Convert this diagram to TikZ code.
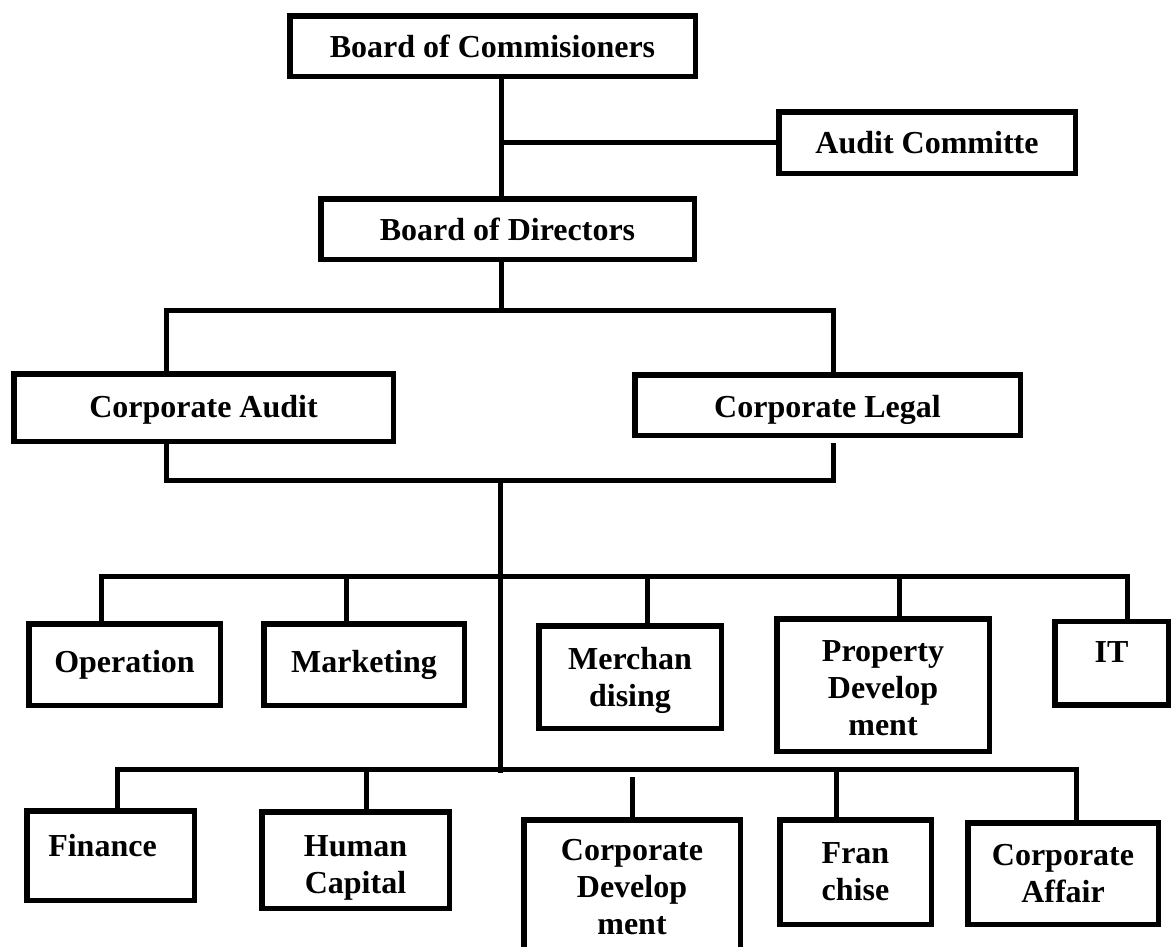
\documentclass[tikz,border=0pt]{standalone}
\usepackage{fontspec}
\setmainfont{Liberation Serif}
\newcommand{\mvtxt}[2]{\raisebox{#1}[\height][\depth]{\begin{tabular}{@{}c@{}}#2\end{tabular}}}
\begin{document}
\begin{tikzpicture}[x=1pt,y=-1pt,
  box/.style={draw, line width=5.5pt, inner sep=0pt, align=center,
    font=\bfseries\fontsize{32}{37}\selectfont},
  conn/.style={line width=5pt, line join=miter}]
\useasboundingbox (0,0) rectangle (1173,946);
% boxes
\node[box, minimum width=405.5pt, minimum height=60.5pt] (boc) at (492.5,46) {Board of Commisioners};
\node[box, minimum width=296.5pt, minimum height=61.5pt] (ac) at (927,142.5) {Audit Committe};
\node[box, minimum width=373.5pt, minimum height=60.5pt] (bod) at (507.5,229) {Board of Directors};
\node[box, minimum width=379.5pt, minimum height=67.5pt] (ca) at (203.5,407.5) {\mvtxt{-3pt}{Corporate Audit}};
\node[box, minimum width=385.5pt, minimum height=60.5pt] (cl) at (827.5,405) {\mvtxt{-5pt}{Corporate Legal}};
\node[box, minimum width=191.5pt, minimum height=81.5pt] (op) at (124.5,664.5) {Operation};
\node[box, minimum width=200.5pt, minimum height=81.5pt] (mk) at (364,664.5) {Marketing};
\node[box, minimum width=182.5pt, minimum height=102.5pt] (me) at (630,677) {\mvtxt{-4pt}{Merchan\\dising}};
\node[box, minimum width=212.5pt, minimum height=132.5pt] (pd) at (883,685) {\mvtxt{-6pt}{Property\\Develop\\ment}};
\node[box, minimum width=113.5pt, minimum height=83.5pt] (it) at (1111.5,663) {\mvtxt{8pt}{IT}};
\node[box, minimum width=167.5pt, minimum height=89.5pt] (fi) at (110.5,855.5) {\mvtxt{6pt}{Finance}\hspace*{16pt}};
\node[box, minimum width=187.5pt, minimum height=96.5pt] (hc) at (355.5,860) {\mvtxt{-8pt}{Human\\Capital}};
\node[box, minimum width=216.5pt, minimum height=135.25pt] (cd) at (632,887.4) {\mvtxt{-3pt}{Corporate\\Develop\\ment}};
\node[box, minimum width=151.5pt, minimum height=104.5pt] (fr) at (855.5,872) {Fran\\chise};
\node[box, minimum width=190.5pt, minimum height=101.5pt] (caf) at (1063,873.5) {Corporate\\Affair};
% helper coordinates
\coordinate (tx) at (501,0);
\coordinate (sx) at (500,0);
\coordinate (busA) at (0,310);
\coordinate (busB) at (0,480);
\coordinate (bus1) at (0,576);
\coordinate (bus2) at (0,769);
\coordinate (spineEnd) at (500,773);
\coordinate (caX) at (166,0);
\coordinate (clX) at (833,0);
\coordinate (clGap) at (833,443);
\coordinate (cdGap) at (632,777);
\coordinate (opX) at (101,0);
\coordinate (mkX) at (346,0);
\coordinate (meX) at (647,0);
\coordinate (pdX) at (899,0);
\coordinate (itX) at (1127,0);
\coordinate (fiX) at (117,0);
\coordinate (hcX) at (366,0);
\coordinate (frX) at (836,0);
\coordinate (cafX) at (1076,0);
% connectors
\draw[conn] (tx |- boc.south) -- (tx |- bod.north);
\draw[conn] (tx |- ac.west) -- (ac.west);
\draw[conn] (tx |- bod.south) -- (tx |- busA);
\draw[conn] (caX |- ca.north) -- (caX |- busA) -- (clX |- busA) -- (clX |- cl.north);
\draw[conn] (caX |- ca.south) -- (caX |- busB) -- (clX |- busB) -- (clGap);
\draw[conn] (sx |- busB) -- (spineEnd);
\draw[conn] (opX |- op.north) -- (opX |- bus1) -- (itX |- bus1) -- (itX |- it.north);
\draw[conn] (mkX |- mk.north) -- (mkX |- bus1);
\draw[conn] (meX |- me.north) -- (meX |- bus1);
\draw[conn] (pdX |- pd.north) -- (pdX |- bus1);
\draw[conn] (fiX |- fi.north) -- (fiX |- bus2) -- (cafX |- bus2) -- (cafX |- caf.north);
\draw[conn] (hcX |- hc.north) -- (hcX |- bus2);
\draw[conn] (cdGap) -- (cd.north);
\draw[conn] (frX |- fr.north) -- (frX |- bus2);
\end{tikzpicture}
\end{document}
